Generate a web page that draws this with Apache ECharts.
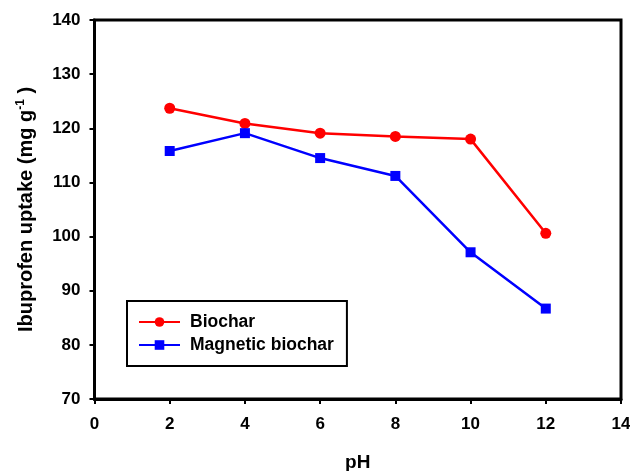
<!DOCTYPE html>
<html>
<head>
<meta charset="utf-8">
<script src="https://cdn.jsdelivr.net/npm/echarts@6/dist/echarts.min.js"></script>
<style>
  html, body { margin: 0; padding: 0; background: #fff; }
  #chart { width: 630px; height: 471px; }
</style>
</head>
<body>
<div id="chart"></div>
<script>
// pH values and uptake readings
const phValues = [2, 4, 6, 8, 10, 12]
const biochar = [123.7, 120.9, 119.1, 118.5, 118.0, 100.6]
const magneticBiochar = [115.8, 119.1, 114.5, 111.2, 97.1, 86.7]
const seriesNames = ['Biochar', 'Magnetic biochar']

const font = '"Liberation Sans", Arial, sans-serif'

const pairs = (ys) => phValues.map((x, i) => [x, ys[i]])

const chart = echarts.init(document.getElementById('chart'))

chart.setOption({
  animation: false,
  textStyle: { fontFamily: font },
  grid: {
    left: 94.5,
    right: 9,
    top: 20,
    bottom: 72,
    outerBoundsMode: 'none',
    show: true,
    borderColor: '#000',
    borderWidth: 3
  },
  legend: {
    data: seriesNames,
    orient: 'vertical',
    left: 127,
    top: 301,
    padding: [12, 13, 12, 11],
    itemWidth: 41,
    itemHeight: 12,
    itemGap: 5,
    borderColor: '#000',
    borderWidth: 2,
    textStyle: { fontFamily: font, fontSize: 17.5, fontWeight: 'bold', color: '#000', padding: [0, 0, 0, 5] }
  },
  xAxis: {
    type: 'value',
    min: 0,
    max: 14,
    interval: 2,
    name: 'pH',
    nameLocation: 'middle',
    nameGap: 54,
    nameTextStyle: { fontFamily: font, fontSize: 19, fontWeight: 'bold', color: '#000' },
    axisLine: { lineStyle: { color: '#000', width: 3 } },
    axisTick: { length: 5, lineStyle: { color: '#000', width: 2 } },
    axisLabel: { margin: 17, fontFamily: font, fontSize: 17, fontWeight: 'bold', color: '#000' },
    splitLine: { show: false }
  },
  yAxis: {
    type: 'value',
    min: 70,
    max: 140,
    interval: 10,
    name: 'Ibuprofen uptake (mg g{sup|-1}{n| )}',
    nameLocation: 'middle',
    nameGap: 56,
    nameTextStyle: {
      fontFamily: font, fontSize: 20, fontWeight: 'bold', color: '#000',
      lineHeight: 24,
      rich: {
        sup: { fontFamily: font, fontSize: 12, fontWeight: 'bold', color: '#000', verticalAlign: 'top', lineHeight: 24 },
        n: { fontFamily: font, fontSize: 20, fontWeight: 'bold', color: '#000', lineHeight: 24 }
      }
    },
    axisLine: { lineStyle: { color: '#000', width: 3 } },
    axisTick: { length: 5, lineStyle: { color: '#000', width: 2 } },
    axisLabel: { margin: 14, fontFamily: font, fontSize: 17, fontWeight: 'bold', color: '#000' },
    splitLine: { show: false }
  },
  series: [
    {
      name: seriesNames[0],
      type: 'line',
      data: pairs(biochar),
      symbol: 'circle',
      symbolSize: 11,
      itemStyle: { color: '#ff0000' },
      lineStyle: { color: '#ff0000', width: 2.5 }
    },
    {
      name: seriesNames[1],
      type: 'line',
      data: pairs(magneticBiochar),
      symbol: 'rect',
      symbolSize: 10,
      itemStyle: { color: '#0000ff' },
      lineStyle: { color: '#0000ff', width: 2.5 }
    }
  ]
})
</script>
</body>
</html>
